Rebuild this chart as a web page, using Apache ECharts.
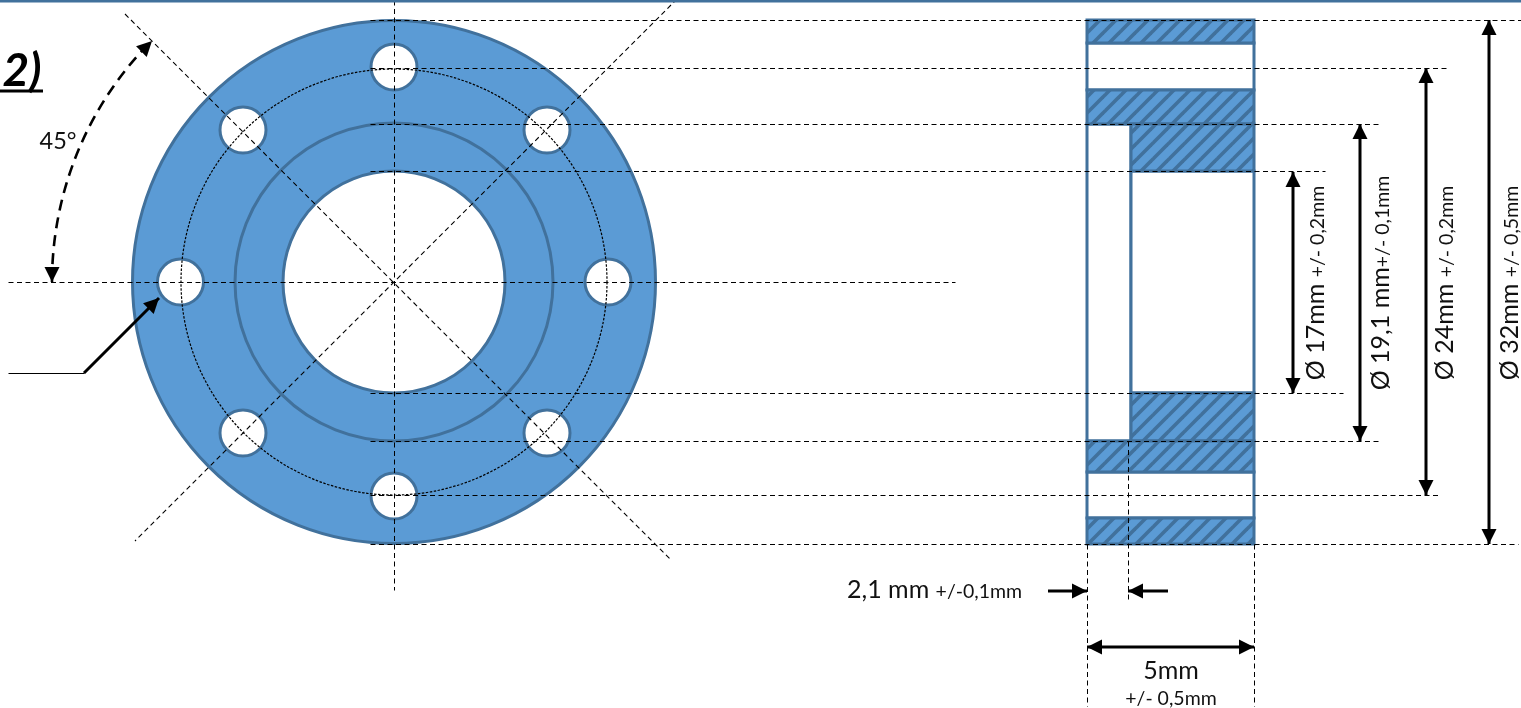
<!DOCTYPE html>
<html><head><meta charset="utf-8">
<style>html,body{margin:0;padding:0;background:#fff;overflow:hidden}#c{width:1521px;height:708px}</style>
<script src="https://cdn.jsdelivr.net/npm/echarts@6/dist/echarts.min.js"></script>
</head><body><div id="c"></div>
<script>
// Drawing geometry, in sheet units [x, y, ...]
const ringFill = [[394, 282, 261.5]];
const ringStep = [[394, 282, 159]];
const bore = [[394, 282, 111]];
const pitchCircle = [[394, 282, 213]];
const holes = [[394,67,23],[243,130,23],[547,130,23],[180.5,282,23],[608,282,23],[243,433,23],[547,433,23],[394,496,23]];
const angleArc = [[394, 282, 342, 180, 225]];
const centreLines = [
  [370,20,1521,20],[370,68,1448,68],[370,124,1378,124],[370,171,1325,171],[8,282,955,282],
  [370,393,1343,393],[370,441,1378,441],[370,495,1440,495],[370,544,1518,544],
  [394,0,394,590],[1087,544,1087,706],[1254,544,1254,706],[1128,441,1128,602]
];
const diagonals = [[125,14,671,560],[677,-1,135,541]];
const hatchedBlocks = [[1087,20,1254,43],[1087,90,1254,124],[1131,124,1254,171],[1131,393,1254,441],[1087,441,1254,472],[1087,518,1254,544]];
const openBlocks = [[1087,43,1254,90],[1087,124,1131,441],[1131,171,1254,393],[1087,472,1254,518]];
const doubleArrows = [[1293,172,1293,393],[1360,124,1360,441],[1426,68,1426,495],[1489,20,1489,544],[1087,647,1254,647]];
const singleArrows = [[1048,591,1087,591],[1168,591,1128,591],[84,373,159,298]];
const thinLines = [[8,373,84,373]];
const headerRule = [[0,1,1521,1]];
const titleRule = [[0,91,43,91]];
const arcHeads = [[52,266,52,282],[141,52,152,41]];
const textPos = [[22,71],[58,141],[847,587],[1171,671],[1171,699],[1313,283],[1378,283],[1442,283],[1507,283]];
const textRows = [
  ['2)','t'],['45°','n'],['{b|2,1 mm }{s|+/-0,1mm}','l'],['5mm','m'],['+/- 0,5mm','u'],
  ['{b|Ø 17mm }{s|+/- 0,2mm}','r'],['{b|Ø 19,1 mm}{s|+/- 0,1mm}','r'],['{b|Ø 24mm }{s|+/- 0,2mm}','r'],['{b|Ø 32mm }{s|+/- 0,5mm}','r']
];

const BLUE='#5B9BD5', EDGE='#41719C', INK='#111';
const FONT='Lato, "Open Sans", sans-serif';
const tile=document.createElement('canvas');tile.width=16;tile.height=16;
(function(){const g=tile.getContext('2d');g.fillStyle=BLUE;g.fillRect(0,0,16,16);g.strokeStyle=EDGE;g.lineWidth=3.6;
  [[-8,8,8,-8],[0,16,16,0],[8,24,24,8]].forEach(s=>{g.beginPath();g.moveTo(s[0],s[1]);g.lineTo(s[2],s[3]);g.stroke();});})();
const hatch={image:tile,repeat:'repeat'};

function S(name,data,z,render){return {type:'custom',name,data,z,silent:true,animation:false,clip:false,coordinateSystem:'cartesian2d',renderItem:render};}
const circle=(style)=>(p,api)=>{const c=api.coord([api.value(0),api.value(1)]);const r=api.size([api.value(2),0])[0];
  return {type:'circle',shape:{cx:c[0],cy:c[1],r},style};};
const line=(style,crisp)=>(p,api)=>{const a=api.coord([api.value(0),api.value(1)]),b=api.coord([api.value(2),api.value(3)]);const o=crisp?0.5:0;
  return {type:'line',shape:{x1:a[0]+o,y1:a[1]+o,x2:b[0]+o,y2:b[1]+o},style};};
const rect=(style)=>(p,api)=>{const a=api.coord([api.value(0),api.value(1)]),b=api.coord([api.value(2),api.value(3)]);
  return {type:'rect',shape:{x:a[0],y:a[1],width:b[0]-a[0],height:b[1]-a[1]},style};};
function head(tip,from,len,wid){const dx=tip[0]-from[0],dy=tip[1]-from[1],d=Math.hypot(dx,dy),ux=dx/d,uy=dy/d;
  const bx=tip[0]-ux*len,by=tip[1]-uy*len;
  return {type:'polygon',shape:{points:[tip,[bx-uy*wid/2,by+ux*wid/2],[bx+uy*wid/2,by-ux*wid/2]]},style:{fill:'#000'}};}
const arrow=(both)=>(p,api)=>{const a=api.coord([api.value(0),api.value(1)]),b=api.coord([api.value(2),api.value(3)]);
  const kids=[{type:'line',shape:{x1:a[0],y1:a[1],x2:b[0],y2:b[1]},style:{stroke:'#000',lineWidth:3}},head(b,a,15,15)];
  if(both)kids.push(head(a,b,15,15));
  return {type:'group',children:kids};};
const styles={
  t:{font:'italic bold 46px '+FONT,fill:'#000',align:'center',verticalAlign:'middle'},
  n:{font:'23.5px '+FONT,fill:INK,align:'center',verticalAlign:'middle'},
  m:{font:'25px '+FONT,fill:INK,align:'center',verticalAlign:'middle'},
  u:{font:'19.5px '+FONT,fill:INK,align:'center',verticalAlign:'middle'},
  l:{fill:INK,align:'left',verticalAlign:'middle'},
  r:{fill:INK,align:'center',verticalAlign:'middle'}
};
const rich={b:{fontFamily:FONT,fontSize:25,lineHeight:30,verticalAlign:'bottom',fill:INK,color:INK},
            s:{fontFamily:FONT,fontSize:19.5,lineHeight:27,verticalAlign:'bottom',fill:INK,color:INK}};
const textRender=(p,api)=>{const c=api.coord([api.value(0),api.value(1)]);const row=textRows[p.dataIndex];
  const st=Object.assign({text:row[0]},styles[row[1]]);
  if(row[1]==='l'||row[1]==='r')st.rich=rich;
  return {type:'text',x:c[0],y:c[1],rotation:row[1]==='r'?Math.PI/2:0,style:st};};

const chart=echarts.init(document.getElementById('c'),null,{renderer:'canvas',width:1521,height:708});
chart.setOption({
  animation:false,
  grid:{left:0,right:0,top:0,bottom:0},
  xAxis:{type:'value',min:0,max:1521,show:false},
  yAxis:{type:'value',min:0,max:708,inverse:true,show:false},
  series:[
    S('disc',ringFill,1,circle({fill:BLUE,stroke:EDGE,lineWidth:3})),
    S('step',ringStep,2,circle({fill:'none',stroke:EDGE,lineWidth:3})),
    S('bore',bore,3,circle({fill:'#fff',stroke:EDGE,lineWidth:3})),
    S('holes',holes,4,circle({fill:'#fff',stroke:EDGE,lineWidth:3})),
    S('open',openBlocks,5,rect({fill:'#fff',stroke:EDGE,lineWidth:3})),
    S('hatched',hatchedBlocks,6,rect({fill:hatch,stroke:EDGE,lineWidth:3})),
    S('pitch',pitchCircle,7,circle({fill:'none',stroke:'#000',lineWidth:1.2,lineDash:[2.5,1.5]})),
    S('centre',centreLines,8,line({stroke:'#000',lineWidth:1,lineDash:[5,3.5]},true)),
    S('diag',diagonals,8,line({stroke:'#000',lineWidth:1.1,lineDash:[5,3.5]})),
    S('rule',headerRule,9,line({stroke:EDGE,lineWidth:3})),
    S('titleRule',titleRule,9,line({stroke:'#000',lineWidth:3})),
    S('thin',thinLines,9,line({stroke:'#000',lineWidth:1},true)),
    S('arc',angleArc,9,(p,api)=>{const c=api.coord([api.value(0),api.value(1)]),r=api.size([api.value(2),0])[0];
      return {type:'arc',shape:{cx:c[0],cy:c[1],r,startAngle:api.value(3)*Math.PI/180,endAngle:api.value(4)*Math.PI/180,clockwise:true},style:{stroke:'#000',fill:'none',lineWidth:2.6,lineDash:[11,7]}};}),
    S('arcHeads',arcHeads,10,(p,api)=>{const a=api.coord([api.value(0),api.value(1)]),b=api.coord([api.value(2),api.value(3)]);return head(b,a,15,15);}),
    S('both',doubleArrows,10,arrow(true)),
    S('single',singleArrows,10,arrow(false)),
    S('texts',textPos,11,textRender)
  ]
});
</script></body></html>
